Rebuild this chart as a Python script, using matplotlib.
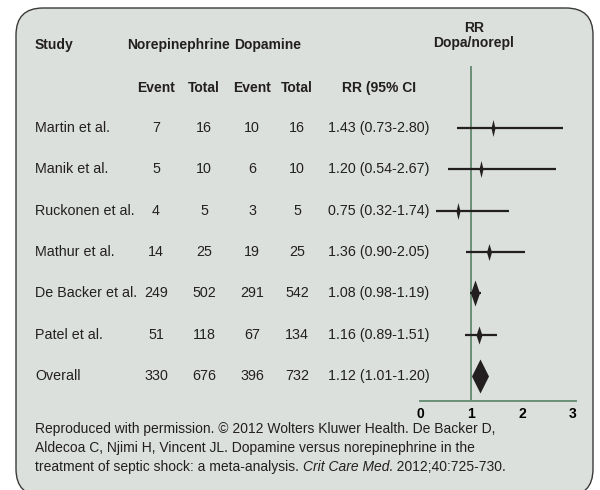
import matplotlib.pyplot as plt
import matplotlib as mpl
from matplotlib.patches import FancyBboxPatch

mpl.rcParams.update({
    "font.family": "Liberation Sans",
    "font.size": 10,
    "text.color": "#231f20",
})

studies = ["Martin et al.", "Manik et al.", "Ruckonen et al.", "Mathur et al.",
           "De Backer et al.", "Patel et al.", "Overall"]
nor_event = [7, 5, 4, 14, 249, 51, 330]
nor_total = [16, 10, 5, 25, 502, 118, 676]
dop_event = [10, 6, 3, 19, 291, 67, 396]
dop_total = [16, 10, 5, 25, 542, 134, 732]
rr = [1.43, 1.20, 0.75, 1.36, 1.08, 1.16, 1.12]
ci_low = [0.73, 0.54, 0.32, 0.90, 0.98, 0.89, 1.01]
ci_high = [2.80, 2.67, 1.74, 2.05, 1.19, 1.51, 1.20]
xticks = [0, 1, 2, 3]

footer = ["Reproduced with permission. \u00a9 2012 Wolters Kluwer Health. De Backer D,",
          "Aldecoa C, Njimi H, Vincent JL. Dopamine versus norepinephrine in the"]
footer_last = ["treatment of septic shock: a meta-analysis. ", "Crit Care Med",
               ". 2012;40:725-730."]

W, H = 600, 490
fig = plt.figure(figsize=(6, 4.9), dpi=100)
fig.patch.set_facecolor("white")

# pixel-space axes for the box and the table
bg = fig.add_axes([0, 0, 1, 1])
bg.set_xlim(0, W)
bg.set_ylim(H, 0)
bg.axis("off")

box = FancyBboxPatch((16, 8), 577, 488, boxstyle="round,pad=0,rounding_size=27",
                     facecolor="#dbe0dc", edgecolor="#3a3a3a", lw=1.0)
bg.add_patch(box)

row0, step = 128, 41.33
col_x = [156, 204, 252, 297]
rr_x = 379
fs = 10.3

bg.text(35, 45, "Study", fontweight="bold", ha="left", va="center")
bg.text(178, 45, "Norepinephrine", fontweight="bold", ha="center", va="center")
bg.text(268, 45, "Dopamine", fontweight="bold", ha="center", va="center")
bg.text(474, 28, "RR", fontweight="bold", ha="center", va="center")
bg.text(474, 43, "Dopa/norepl", fontweight="bold", ha="center", va="center")
for x, lab in zip(col_x, ["Event", "Total", "Event", "Total"]):
    bg.text(x, 88, lab, fontweight="bold", ha="center", va="center")
bg.text(rr_x, 88, "RR (95% CI", fontweight="bold", ha="center", va="center")

for i, name in enumerate(studies):
    y = row0 + step * i
    bg.text(35, y, name, ha="left", va="center", fontsize=fs)
    vals = [nor_event[i], nor_total[i], dop_event[i], dop_total[i]]
    for x, v in zip(col_x, vals):
        bg.text(x, y, str(v), ha="center", va="center", fontsize=fs)
    bg.text(rr_x, y, f"{rr[i]:.2f} ({ci_low[i]:.2f}-{ci_high[i]:.2f})",
            ha="center", va="center", fontsize=fs)

# footer
for k, line in enumerate(footer):
    bg.text(35, 429 + 19 * k, line, ha="left", va="center")
fig.canvas.draw()
r = fig.canvas.get_renderer()
x0 = 35
for j, part in enumerate(footer_last):
    t = bg.text(x0, 467, part, ha="left", va="center",
                fontstyle="italic" if j == 1 else "normal")
    ext = t.get_window_extent(renderer=r)
    x0 += ext.width

# forest plot axes
top_px, axis_px = 66, 401
left_px, px_per_unit = 420, 51
xmax = 3.06
ax = fig.add_axes([left_px / W, (H - axis_px) / H, xmax * px_per_unit / W,
                   (axis_px - top_px) / H])
ax.patch.set_alpha(0)
ax.set_xlim(0, xmax)
ax.set_ylim((axis_px - row0) / step, (top_px - row0) / step)
for s in ["top", "right", "left"]:
    ax.spines[s].set_visible(False)
ax.spines["bottom"].set_color("#6b8f78")
ax.spines["bottom"].set_linewidth(1.4)
ax.set_yticks([])
ax.set_xticks(xticks)
ax.set_xticklabels([str(t) for t in xticks], fontweight="bold")
ax.tick_params(axis="x", length=0, pad=4)
ax.axvline(1, color="#6b8f78", lw=1.4, zorder=1)

# diamond sizes in px (height, width)
heights = [17, 17, 17, 17, 26, 18, 34]
widths = [4, 4, 4, 5, 9, 6, 17]
for i in range(len(studies)):
    if i < len(studies) - 1:
        ax.plot([ci_low[i], ci_high[i]], [i, i], color="#231f20", lw=1.6,
                solid_capstyle="butt", zorder=2)
    ratio = widths[i] / heights[i]
    verts = [(0, 1), (ratio, 0), (0, -1), (-ratio, 0), (0, 1)]
    ax.plot([rr[i] + (0.06 if i == len(studies) - 1 else 0)], [i],
            marker=verts, markersize=heights[i] * 0.72, color="#231f20",
            markeredgewidth=0, linestyle="none", zorder=3)

fig.savefig("out.png", dpi=100)
